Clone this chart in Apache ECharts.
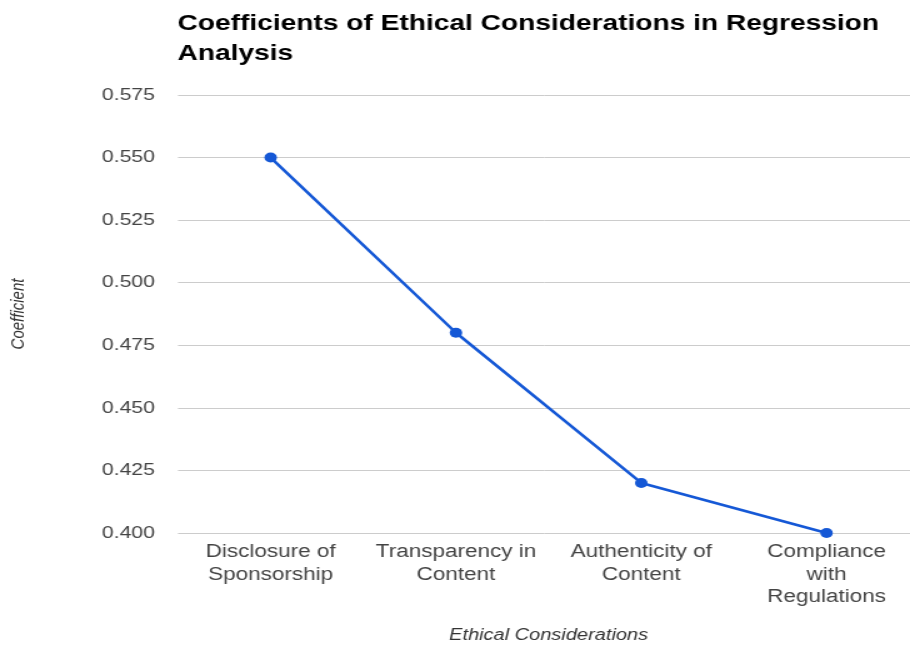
<!DOCTYPE html>
<html>
<head>
<meta charset="utf-8">
<script src="https://cdn.jsdelivr.net/npm/echarts@6/dist/echarts.min.js"></script>
<style>
  html, body { margin: 0; padding: 0; background: #fff; overflow: hidden; }
  /* the drawing is laid out on a narrower canvas and widened horizontally */
  #chart { width: 728px; height: 645px; transform: scaleX(1.25); transform-origin: 0 0; }
</style>
</head>
<body>
<div id="chart"></div>
<script>
// Regression coefficients for each ethical consideration
const categories = [
  'Disclosure of\nSponsorship',
  'Transparency in\nContent',
  'Authenticity of\nContent',
  'Compliance\nwith\nRegulations'
];
const coefficients = [0.55, 0.48, 0.42, 0.40];
const yTicks = { min: 0.4, max: 0.575, step: 0.025 };

const FONT = 'Liberation Sans, Arial, sans-serif';

const chart = echarts.init(document.getElementById('chart'));
chart.setOption({
  backgroundColor: '#ffffff',
  animation: false,
  title: {
    text: 'Coefficients of Ethical Considerations in Regression\nAnalysis',
    left: 137,
    top: 4,
    textStyle: {
      fontFamily: FONT,
      fontSize: 22.5,
      fontWeight: 'bold',
      color: '#000',
      lineHeight: 30
    }
  },
  grid: {
    left: 142.4, top: 95, width: 593, height: 438,
    containLabel: false, outerBoundsMode: 'none'
  },
  xAxis: {
    type: 'category',
    data: categories,
    boundaryGap: true,
    name: 'Ethical Considerations',
    nameLocation: 'middle',
    nameGap: 95,
    nameTextStyle: {
      fontFamily: FONT,
      fontStyle: 'italic',
      fontSize: 16,
      color: '#333'
    },
    axisLine: { show: false },
    axisTick: { show: false },
    axisLabel: {
      margin: 8,
      interval: 0,
      fontFamily: FONT,
      fontSize: 18,
      lineHeight: 22.5,
      color: '#444'
    }
  },
  yAxis: {
    type: 'value',
    min: yTicks.min,
    max: yTicks.max,
    interval: yTicks.step,
    name: 'Coefficient',
    nameLocation: 'middle',
    nameGap: 120,
    nameRotate: 90,
    nameTextStyle: {
      fontFamily: FONT,
      fontStyle: 'italic',
      fontSize: 15,
      color: '#333'
    },
    axisLine: { show: false },
    axisTick: { show: false },
    splitLine: { lineStyle: { color: '#cccccc', width: 1 } },
    axisLabel: {
      margin: 18.4,
      fontFamily: FONT,
      fontSize: 17,
      color: '#444',
      formatter: v => v.toFixed(3)
    }
  },
  series: [{
    type: 'line',
    data: coefficients,
    symbol: 'circle',
    symbolSize: 10,
    lineStyle: { color: '#1558d6', width: 2.6 },
    itemStyle: { color: '#1558d6' }
  }]
});
</script>
</body>
</html>
